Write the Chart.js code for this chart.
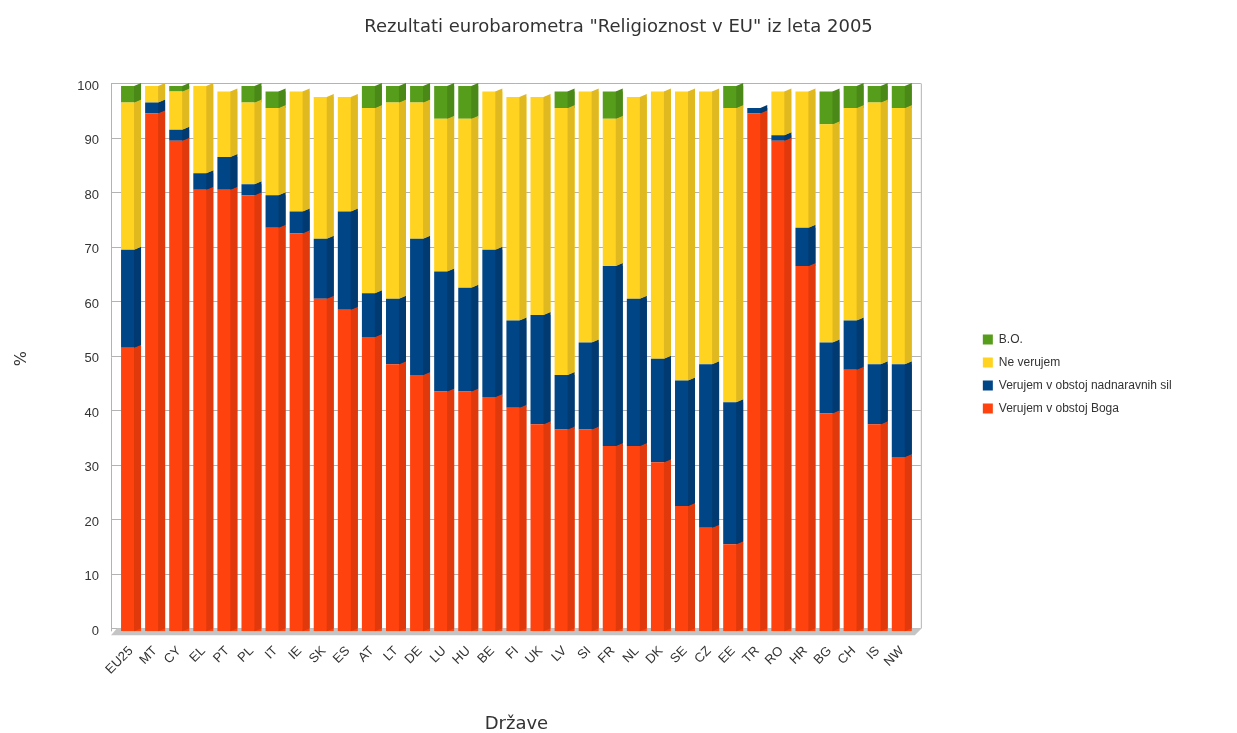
<!DOCTYPE html>
<html lang="sl">
<head>
    <meta charset="UTF-8">
    <title>Religioznost v EU 2005</title>
    <style>
        html, body {
            margin: 0;
            padding: 0;
            background: #ffffff;
        }
        #wrap {
            width: 1237px;
            height: 733px;
        }
    </style>
</head>
<body>
<div id="wrap"><canvas id="chart"></canvas></div>

<script src="https://cdn.jsdelivr.net/npm/chart.js"></script>
<script>
    // countries (x axis)
    const drzave = ['EU25', 'MT', 'CY', 'EL', 'PT', 'PL', 'IT', 'IE', 'SK', 'ES', 'AT',
        'LT', 'DE', 'LU', 'HU', 'BE', 'FI', 'UK', 'LV', 'SI', 'FR', 'NL', 'DK', 'SE',
        'CZ', 'EE', 'TR', 'RO', 'HR', 'BG', 'CH', 'IS', 'NW'];

    // percentages
    const verujemBoga = [52, 95, 90, 81, 81, 80, 74, 73, 61, 59, 54, 49, 47, 44, 44, 43,
        41, 38, 37, 37, 34, 34, 31, 23, 19, 16, 95, 90, 67, 40, 48, 38, 32];
    const nadnaravneSile = [18, 2, 2, 3, 6, 2, 6, 4, 11, 18, 8, 12, 25, 22, 19, 27,
        16, 20, 10, 16, 33, 27, 19, 23, 30, 26, 1, 1, 7, 13, 9, 11, 17];
    const neVerujem = [27, 3, 7, 16, 12, 15, 16, 22, 26, 21, 34, 36, 25, 28, 31, 29,
        41, 40, 49, 46, 27, 37, 49, 53, 50, 54, 0, 8, 25, 40, 39, 48, 47];
    const bo = [3, 0, 1, 0, 0, 3, 3, 0, 0, 0, 4, 3, 3, 6, 6, 0,
        0, 0, 3, 0, 5, 0, 0, 0, 0, 4, 0, 0, 0, 6, 4, 3, 4];

    const frontColors = ['#ff420e', '#004586', '#ffd320', '#579d1c'];
    const sideColors = ['#e0390b', '#003a70', '#e0b820', '#4a8818'];

    // make the legend box reach the right edge so the title stays centred on the page
    const legendWidthPlugin = {
        id: 'legendWidth',
        beforeLayout(chart) {
            const lg = chart.legend;
            if (!lg || lg._patched) return;
            const fit = lg.fit;
            lg.fit = function () {
                fit.call(this);
                this.width += 59;
            };
            lg._patched = true;
        }
    };

    // back wall: grid lines, left and right edge, grey floor
    const wallPlugin = {
        id: 'wall',
        beforeDatasetsDraw(chart) {
            const a = chart.chartArea;
            const y = chart.scales.y;
            const ctx = chart.ctx;
            const l = a.left - 8, r = a.right + 7;
            ctx.save();
            ctx.strokeStyle = '#b3b3b3';
            ctx.lineWidth = 1;
            y.ticks.forEach(t => {
                const py = Math.round(y.getPixelForValue(t.value) - 3) + 0.5;
                ctx.beginPath();
                ctx.moveTo(l, py);
                ctx.lineTo(r, py);
                ctx.stroke();
            });
            const top = Math.round(y.getPixelForValue(100) - 3) + 0.5;
            ctx.beginPath();
            ctx.moveTo(l + 0.5, top);
            ctx.lineTo(l + 0.5, a.bottom);
            ctx.moveTo(r + 0.5, top);
            ctx.lineTo(r + 0.5, a.bottom - 3);
            ctx.stroke();

            ctx.fillStyle = '#c4c4c4';
            ctx.beginPath();
            ctx.moveTo(l, a.bottom + 4);
            ctx.lineTo(l + 6, a.bottom - 3);
            ctx.lineTo(r + 1, a.bottom - 3);
            ctx.lineTo(r - 6, a.bottom + 4);
            ctx.closePath();
            ctx.fill();
            ctx.restore();
        }
    };

    // darker right side of each bar, a bit of fake 3D like the original
    const sidesPlugin = {
        id: 'sides',
        afterDatasetsDraw(chart) {
            const ctx = chart.ctx;
            const depth = 7;
            ctx.save();
            chart.data.datasets.forEach((ds, i) => {
                const meta = chart.getDatasetMeta(i);
                meta.data.forEach((bar, j) => {
                    if (!ds.data[j]) return;
                    const p = bar.getProps(['x', 'y', 'base', 'width'], true);
                    const r = p.x + p.width / 2;
                    const l = r - depth;
                    ctx.fillStyle = sideColors[i];
                    ctx.beginPath();
                    ctx.moveTo(l, p.y);
                    ctx.lineTo(r, p.y - 3);
                    ctx.lineTo(r, p.base - 3);
                    ctx.lineTo(l, p.base);
                    ctx.closePath();
                    ctx.fill();
                });
            });
            ctx.restore();
        }
    };

    const ctx = document.getElementById('chart').getContext('2d');
    new Chart(ctx, {
        type: 'bar',
        data: {
            labels: drzave,
            datasets: [
                { label: 'Verujem v obstoj Boga', data: verujemBoga, backgroundColor: frontColors[0] },
                { label: 'Verujem v obstoj nadnaravnih sil', data: nadnaravneSile, backgroundColor: frontColors[1] },
                { label: 'Ne verujem', data: neVerujem, backgroundColor: frontColors[2] },
                { label: 'B.O.', data: bo, backgroundColor: frontColors[3] }
            ]
        },
        options: {
            responsive: true,
            maintainAspectRatio: false,
            animation: false,
            layout: { padding: 0 },
            datasets: {
                bar: { categoryPercentage: 1.0, barPercentage: 0.83, borderWidth: 0 }
            },
            plugins: {
                title: {
                    display: true,
                    text: 'Rezultati eurobarometra "Religioznost v EU" iz leta 2005',
                    color: '#333333',
                    font: { family: 'DejaVu Sans', size: 18, weight: 'normal' },
                    padding: { top: 16.5, bottom: 48 }
                },
                legend: {
                    position: 'right',
                    reverse: true,
                    title: { display: true, text: ' ', font: { size: 10 }, padding: { top: 3, bottom: 0 } },
                    labels: {
                        boxWidth: 10,
                        boxHeight: 10,
                        padding: 11,
                        color: '#333333',
                        font: { family: 'Liberation Sans', size: 12 }
                    }
                },
                tooltip: { enabled: false }
            },
            scales: {
                x: {
                    stacked: true,
                    grid: { display: false },
                    border: { display: false },
                    ticks: {
                        color: '#333333',
                        font: { family: 'Liberation Sans', size: 13 },
                        maxRotation: 45,
                        minRotation: 45,
                        autoSkip: false,
                        padding: 4
                    },
                    title: {
                        display: true,
                        text: 'Države',
                        color: '#333333',
                        font: { family: 'DejaVu Sans', size: 18 },
                        padding: { top: 32, bottom: -2 }
                    }
                },
                y: {
                    stacked: true,
                    min: 0,
                    max: 100,
                    ticks: {
                        stepSize: 10,
                        color: '#333333',
                        font: { family: 'Liberation Sans', size: 13 },
                        padding: 20
                    },
                    grid: { display: false, drawTicks: false },
                    border: { display: false },
                    title: {
                        display: true,
                        text: '%',
                        color: '#333333',
                        font: { family: 'DejaVu Sans', size: 16 },
                        padding: { top: 12, bottom: 0 }
                    },
                    afterFit(scale) { scale.width = 119; }
                },
                gap: {
                    position: 'right',
                    display: true,
                    grid: { display: false },
                    border: { display: false },
                    ticks: { display: false },
                    afterFit(scale) { scale.width = 58; }
                }
            }
        },
        plugins: [legendWidthPlugin, wallPlugin, sidesPlugin]
    });
</script>
</body>
</html>
